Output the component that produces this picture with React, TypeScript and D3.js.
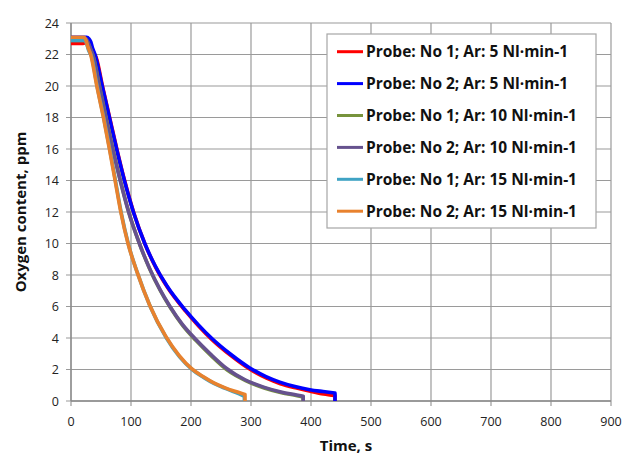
import React from 'react';
import * as d3 from 'd3';

// time (s) / oxygen content (ppm)
const t5a = [0, 10, 20, 26, 30, 34, 38, 42, 53, 65, 77, 90, 105, 124, 141, 161, 191, 213, 235, 266, 299, 326, 349, 376, 399, 421, 440];
const v5a = [22.7, 22.7, 22.7, 22.8, 22.8, 22.5, 22.1, 21.8, 19.9, 17.9, 15.9, 13.9, 11.9, 9.9, 8.5, 7.2, 5.7, 4.75, 3.9, 2.9, 2.0, 1.45, 1.1, 0.82, 0.62, 0.45, 0.35];
const t5b = [0, 10, 20, 26, 30, 33, 36, 40, 52, 64, 76, 89, 104, 123, 140, 160, 190, 212, 234, 265, 298, 325, 348, 375, 398, 420, 440];
const v5b = [23.1, 23.1, 23.1, 23.1, 23.0, 22.8, 22.4, 22.0, 20.0, 18.0, 16.0, 14.0, 12.0, 10.0, 8.6, 7.3, 5.8, 4.85, 4.0, 3.0, 2.1, 1.55, 1.2, 0.9, 0.72, 0.6, 0.5];
const t10a = [0, 10, 20, 25, 29, 33, 37, 48, 59, 70.5, 83, 97, 115, 131, 149, 166, 186, 208, 233, 261, 291, 322, 351, 377, 387];
const v10a = [22.9, 22.9, 22.9, 22.9, 22.7, 22.3, 21.9, 19.9, 17.9, 15.9, 13.9, 11.9, 9.9, 8.4, 7.0, 5.9, 4.8, 3.85, 2.9, 1.95, 1.3, 0.83, 0.53, 0.34, 0.25];
const t10b = [0, 10, 20, 25, 28, 32, 36, 47, 58, 69.5, 82, 96, 114, 130, 148, 165, 185, 207, 232, 260, 290, 321, 350, 376, 387];
const v10b = [23.0, 23.0, 23.0, 23.0, 22.8, 22.4, 22.0, 20.0, 18.0, 16.0, 14.0, 12.0, 10.0, 8.5, 7.1, 6.0, 4.9, 3.95, 3.0, 2.05, 1.35, 0.88, 0.57, 0.38, 0.3];
const t15a = [0, 10, 18, 22, 26, 29, 34, 44, 55, 65, 74.5, 84, 96, 111, 132, 159, 181, 202, 221, 239, 257, 274, 289];
const v15a = [22.9, 22.9, 22.9, 22.9, 22.7, 22.3, 21.9, 19.9, 17.9, 15.9, 13.9, 11.9, 9.9, 8.1, 6.0, 4.0, 2.8, 2.0, 1.5, 1.1, 0.8, 0.55, 0.3];
const t15b = [0, 10, 18, 22, 25, 28, 32.8, 43, 54, 64, 73.5, 83, 95, 110, 131, 158, 180, 201, 220, 238, 256, 273, 290];
const v15b = [23.1, 23.1, 23.1, 23.1, 22.9, 22.5, 22.0, 20.0, 18.0, 16.0, 14.0, 12.0, 10.0, 8.2, 6.1, 4.1, 2.9, 2.05, 1.55, 1.15, 0.85, 0.62, 0.42];

const seriesNames = [
  'Probe: No 1; Ar: 5 Nl·min-1',
  'Probe: No 2; Ar: 5 Nl·min-1',
  'Probe: No 1; Ar: 10 Nl·min-1',
  'Probe: No 2; Ar: 10 Nl·min-1',
  'Probe: No 1; Ar: 15 Nl·min-1',
  'Probe: No 2; Ar: 15 Nl·min-1',
];
const seriesT = [t5a, t5b, t10a, t10b, t15a, t15b];
const seriesV = [v5a, v5b, v10a, v10b, v15a, v15b];
const colors = ['#ff0000', '#0000ff', '#77933c', '#66528e', '#3fa3c4', '#e8822e'];

const xDomain = [0, 900];
const yDomain = [0, 24];

export default function App() {
  const width = 622;
  const height = 456;
  const m = { left: 71, right: 11, top: 23, bottom: 55 };

  const x = d3.scaleLinear().domain(xDomain).range([m.left, width - m.right]);
  const y = d3.scaleLinear().domain(yDomain).range([height - m.bottom, m.top]);

  const line = d3.line<[number, number]>()
    .x(d => x(d[0]))
    .y(d => y(d[1]))
    .curve(d3.curveMonotoneX);

  const xTicks = x.ticks(10);
  const yTicks = y.ticks(12);
  const font = "'Open Sans', sans-serif";

  const legX = 327, legY = 34, legW = 269, legH = 194;
  const rowH = 31.9;

  return (
    <svg width={width} height={height} style={{ position: 'absolute', left: 0, top: 0, background: '#fff' }}>
      <g>
        {xTicks.map(t => (
          <line key={'gx' + t} x1={x(t)} x2={x(t)} y1={y(24)} y2={y(0) + 5} stroke="#9a9a9a" strokeWidth={1.2} />
        ))}
        {yTicks.map(t => (
          <line key={'gy' + t} x1={x(0) - 5} x2={x(900)} y1={y(t)} y2={y(t)} stroke="#9a9a9a" strokeWidth={1.2} />
        ))}
        <line x1={x(0)} x2={x(0)} y1={y(24)} y2={y(0)} stroke="#8a8a8a" strokeWidth={1.3} />
        <line x1={x(0)} x2={x(900)} y1={y(0)} y2={y(0)} stroke="#8a8a8a" strokeWidth={1.3} />
      </g>

      <g fontFamily={font} fontSize={12.5} fill="#222">
        {xTicks.map(t => (
          <text key={'lx' + t} x={x(t)} y={426} textAnchor="middle">{t}</text>
        ))}
        {yTicks.map(t => (
          <text key={'ly' + t} x={59} y={y(t) + 4.5} textAnchor="end">{t}</text>
        ))}
      </g>

      <g fill="none" strokeWidth={3.6} strokeLinejoin="round">
        {seriesT.map((ts, i) => {
          const pts = ts.map((t, j) => [t, seriesV[i][j]] as [number, number]);
          const last = ts[ts.length - 1];
          return (
            <path key={i} d={line(pts) + `L${x(last)},${y(0)}`} stroke={colors[i]} />
          );
        })}
      </g>

      <text x={346} y={451} textAnchor="middle" fontFamily={font} fontWeight="bold" fontSize={15} fill="#111">Time, s</text>
      <text transform={`translate(26,${(y(0) + y(24)) / 2}) rotate(-90)`} textAnchor="middle" fontFamily={font} fontWeight="bold" fontSize={15} fill="#111">Oxygen content, ppm</text>

      <g>
        <rect x={legX} y={legY} width={legW} height={legH} fill="#fff" stroke="#a6a6a6" strokeWidth={1.2} />
        {seriesNames.map((name, i) => {
          const cy = legY + 17.7 + i * rowH;
          return (
            <g key={name}>
              <line x1={legX + 10} x2={legX + 36} y1={cy} y2={cy} stroke={colors[i]} strokeWidth={3} />
              <text x={legX + 39} y={cy + 5.5} fontFamily={font} fontWeight="bold" fontSize={15.5} fill="#111">{name}</text>
            </g>
          );
        })}
      </g>
    </svg>
  );
}
